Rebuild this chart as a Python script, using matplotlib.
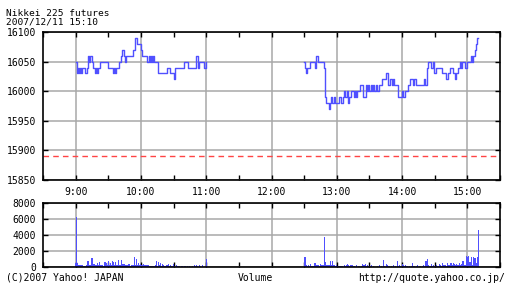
import matplotlib
matplotlib.use("Agg")
import matplotlib.pyplot as plt

plt.rcParams['font.family'] = ['DejaVu Sans Mono']
plt.rcParams['font.size'] = 7

# price per minute, 9:00 - 11:00
morning_prices = [
    16050, 16030, 16040, 16030, 16040, 16030, 16040, 16040, 16040, 16030,
    16040, 16060, 16050, 16060, 16060, 16050, 16040, 16040, 16030, 16040,
    16030, 16040, 16050, 16050, 16050, 16050, 16050, 16050, 16050, 16050,
    16040, 16040, 16040, 16040, 16030, 16040, 16030, 16040, 16040, 16040,
    16050, 16050, 16060, 16070, 16060, 16050, 16060, 16060, 16060, 16060,
    16060, 16060, 16060, 16070, 16070, 16090, 16080, 16080, 16080, 16080,
    16070, 16060, 16060, 16060, 16060, 16060, 16050, 16060, 16050, 16060,
    16050, 16060, 16050, 16050, 16050, 16050, 16030, 16030, 16030, 16030,
    16030, 16030, 16030, 16030, 16040, 16040, 16040, 16030, 16030, 16030,
    16020, 16040, 16040, 16040, 16040, 16040, 16040, 16040, 16040, 16040,
    16050, 16050, 16050, 16040, 16040, 16040, 16040, 16040, 16040, 16040,
    16040, 16060, 16040, 16050, 16050, 16050, 16050, 16050, 16040, 16040,
    16050]

# price per minute, 12:30 - 15:10
afternoon_prices = [
    16050, 16040, 16030, 16040, 16040, 16050, 16050, 16050, 16050, 16050,
    16040, 16060, 16060, 16050, 16050, 16050, 16050, 16050, 16040, 15990,
    15980, 15980, 15980, 15970, 15980, 15990, 15980, 15990, 15980, 15980,
    15980, 15980, 15990, 15990, 15980, 15980, 15990, 16000, 15990, 16000,
    15980, 15990, 15990, 16000, 16000, 16000, 15990, 16000, 15990, 16000,
    16000, 16010, 16010, 16010, 15990, 15990, 15990, 16010, 16000, 16010,
    16000, 16010, 16000, 16010, 16000, 16000, 16010, 16000, 16000, 16010,
    16010, 16010, 16020, 16020, 16020, 16030, 16030, 16010, 16010, 16020,
    16020, 16010, 16020, 16010, 16010, 16010, 15990, 15990, 15990, 15990,
    16000, 15990, 15990, 16000, 16000, 16010, 16010, 16020, 16020, 16020,
    16010, 16020, 16020, 16010, 16010, 16010, 16010, 16010, 16010, 16010,
    16020, 16010, 16010, 16040, 16050, 16050, 16050, 16040, 16050, 16030,
    16030, 16040, 16040, 16040, 16040, 16040, 16040, 16030, 16030, 16030,
    16020, 16020, 16030, 16030, 16040, 16040, 16040, 16030, 16030, 16020,
    16030, 16040, 16040, 16050, 16040, 16050, 16050, 16050, 16040, 16040,
    16050, 16050, 16050, 16060, 16050, 16060, 16060, 16070, 16080, 16090,
    16090]

morning_volume = [
    500, 6300, 500, 250, 250, 300, 250, 100, 150, 100,
    200, 800, 700, 300, 200, 1150, 400, 350, 300, 200,
    500, 200, 600, 300, 200, 300, 150, 600, 500, 200,
    700, 300, 500, 250, 700, 600, 200, 600, 300, 900,
    300, 200, 900, 400, 350, 400, 300, 200, 300, 400,
    150, 250, 300, 200, 1200, 300, 1050, 300, 500, 200,
    400, 300, 350, 300, 250, 200, 300, 200, 100, 150,
    100, 100, 100, 200, 700, 150, 600, 300, 500, 100,
    400, 200, 100, 100, 200, 400, 150, 300, 100, 100,
    400, 100, 50, 200, 100, 100, 50, 100, 150, 50,
    100, 100, 50, 100, 50, 100, 50, 100, 50, 300,
    100, 300, 100, 50, 300, 100, 50, 200, 50, 100,
    950]

afternoon_volume = [
    1300, 1200, 200, 150, 250, 100, 400, 150, 100, 150,
    500, 250, 200, 300, 100, 400, 200, 300, 200, 3800,
    600, 300, 300, 200, 800, 300, 700, 200, 300, 100,
    300, 100, 150, 100, 100, 100, 50, 200, 100, 200,
    400, 300, 100, 300, 200, 100, 100, 50, 300, 50,
    100, 100, 50, 100, 350, 300, 400, 100, 200, 150,
    50, 100, 200, 50, 100, 50, 50, 100, 50, 200,
    50, 100, 50, 900, 100, 50, 400, 300, 100, 50,
    100, 50, 200, 50, 100, 50, 700, 100, 300, 100,
    400, 300, 100, 200, 100, 100, 50, 100, 50, 100,
    500, 150, 50, 100, 300, 50, 100, 100, 50, 100,
    200, 100, 700, 1000, 300, 100, 100, 350, 100, 300,
    100, 50, 200, 100, 400, 200, 100, 500, 300, 200,
    200, 100, 500, 300, 200, 450, 300, 500, 350, 300,
    400, 200, 300, 500, 300, 400, 700, 300, 200, 1400,
    1300, 1400, 600, 600, 1200, 200, 1200, 1100, 500, 1300,
    4600]

prev_close = 15890
hour_labels = ["9:00", "10:00", "11:00", "12:00", "13:00", "14:00", "15:00"]

# minutes since midnight
morning_t = [9 * 60 + i for i in range(len(morning_prices))]
afternoon_t = [12 * 60 + 30 + i for i in range(len(afternoon_prices))]

blue = '#5050ff'
grid_col = '#a8a8a8'

fig = plt.figure(figsize=(5.12, 2.88), dpi=100)
ax = fig.add_axes([43 / 512, 1 - 180 / 288, 457 / 512, 148 / 288])
axv = fig.add_axes([43 / 512, 1 - 267 / 288, 457 / 512, 64 / 288])

hours = [h * 60 for h in range(9, 16)]
halves = [h * 60 + 30 for h in range(8, 16)]

for a in (ax, axv):
    a.set_xlim(8 * 60 + 30, 15 * 60 + 30)
    a.set_xticks(hours)
    a.set_xticks(halves, minor=True)
    a.tick_params(which='both', direction='in', top=True, right=True,
                  length=3.5, width=1, color='black', pad=5)
    a.grid(True, which='major', color=grid_col, linewidth=1.1)
    a.set_axisbelow(True)
    for s in a.spines.values():
        s.set_linewidth(1.2)

ax.plot(morning_t, morning_prices, drawstyle='steps-post', color=blue, lw=1.0)
ax.plot(afternoon_t, afternoon_prices, drawstyle='steps-post', color=blue, lw=1.0)
ax.axhline(prev_close, color='#ff4444', lw=1.0, dashes=(4, 3))
ax.set_ylim(15850, 16100)
ax.set_yticks([15850, 15900, 15950, 16000, 16050, 16100])
ax.set_xticklabels(hour_labels)

axv.bar(morning_t, morning_volume, width=1.0, color=blue, linewidth=0, antialiased=False)
axv.bar(afternoon_t, afternoon_volume, width=1.0, color=blue, linewidth=0, antialiased=False)
axv.set_ylim(0, 8000)
axv.set_yticks([0, 2000, 4000, 6000, 8000])
axv.set_xticklabels([])

fig.text(6 / 512, 1 - 15.5 / 288, "Nikkei 225 futures", va='baseline', ha='left', fontsize=6.8)
fig.text(6 / 512, 1 - 24.5 / 288, "2007/12/11 15:10", va='baseline', ha='left', fontsize=6.8)
fig.text(6 / 512, 1 - 278 / 288, "(C)2007 Yahoo! JAPAN", va='center', ha='left')
fig.text(255 / 512, 1 - 278 / 288, "Volume", va='center', ha='center')
fig.text(505 / 512, 1 - 278 / 288, "http://quote.yahoo.co.jp/", va='center', ha='right')

fig.savefig("out.png", dpi=100)
